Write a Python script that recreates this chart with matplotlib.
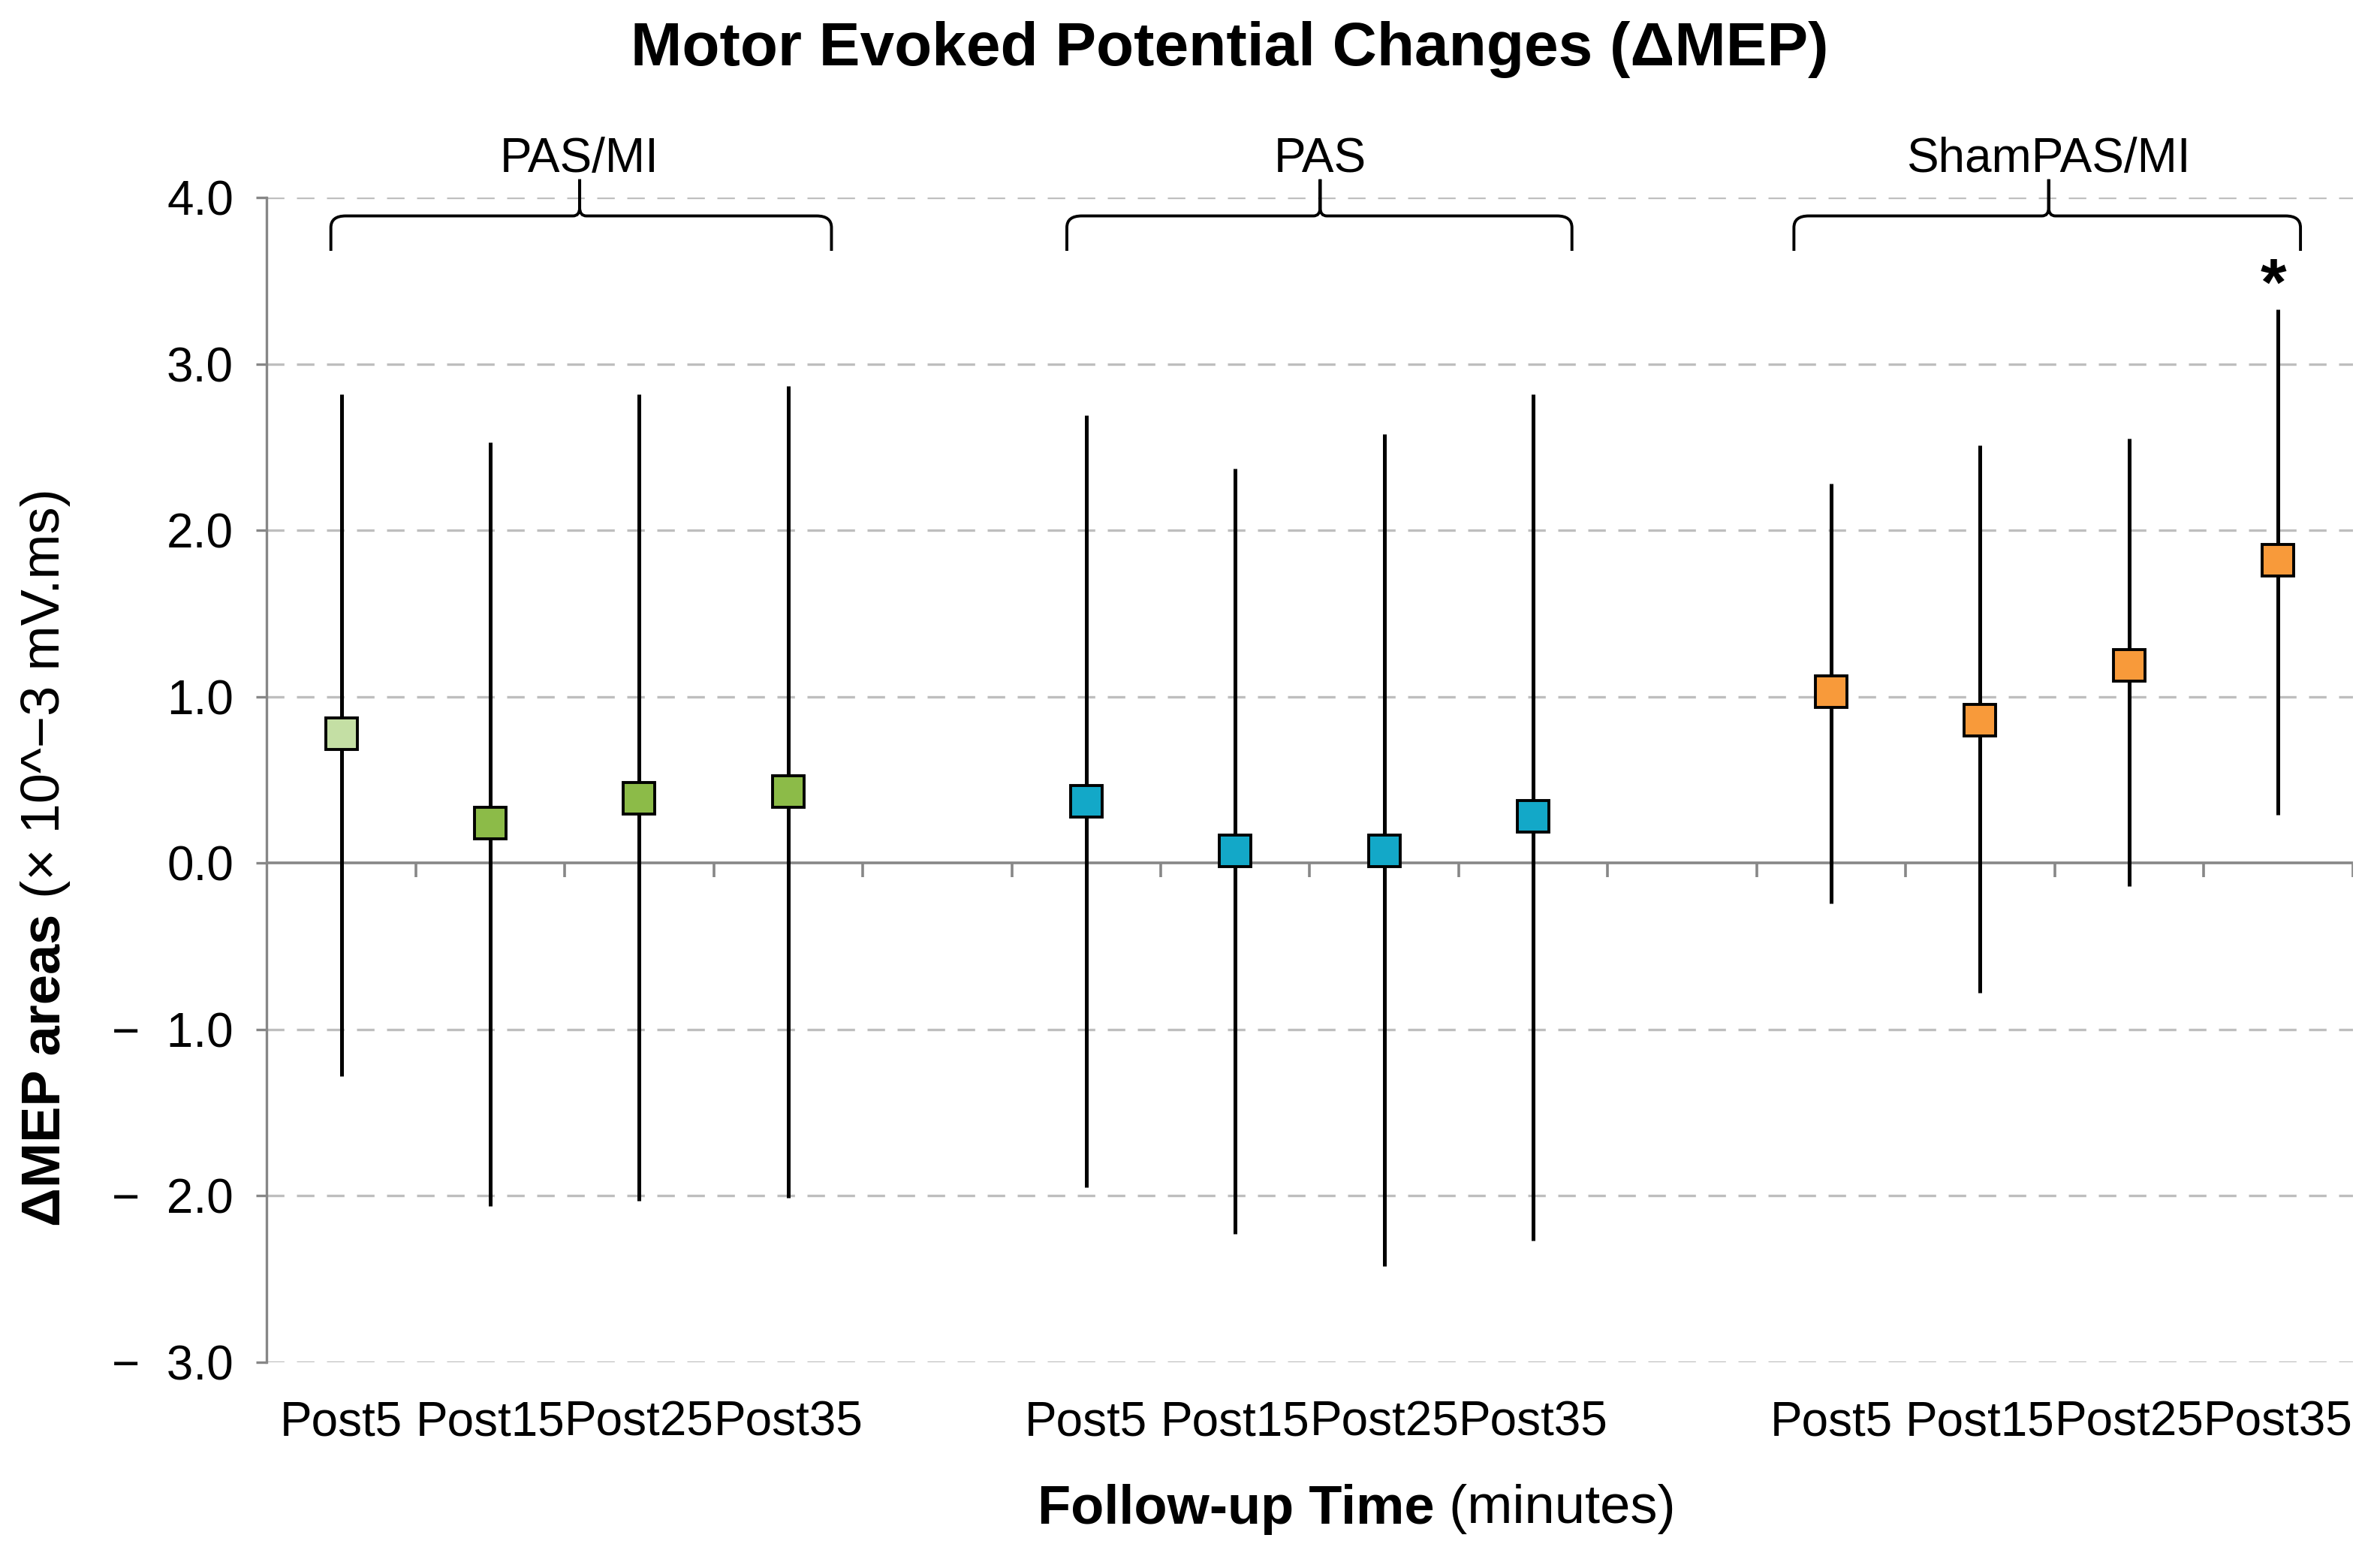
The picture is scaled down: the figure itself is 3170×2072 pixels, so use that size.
import matplotlib
matplotlib.use("Agg")
import matplotlib.pyplot as plt
from matplotlib.path import Path
from matplotlib.patches import PathPatch
import numpy as np

plt.rcParams['font.family'] = ['Liberation Sans', 'DejaVu Sans']

# ---------------- data ----------------
groups = ['PAS/MI', 'PAS', 'ShamPAS/MI']
timepoints = ['Post5', 'Post15', 'Post25', 'Post35']

pasmi_mean = [0.78, 0.24, 0.39, 0.43]
pasmi_upper = [2.82, 2.53, 2.82, 2.87]
pasmi_lower = [-1.28, -2.06, -2.03, -2.01]

pas_mean = [0.37, 0.075, 0.075, 0.28]
pas_upper = [2.69, 2.37, 2.58, 2.82]
pas_lower = [-1.95, -2.23, -2.42, -2.27]

sham_mean = [1.03, 0.86, 1.19, 1.82]
sham_upper = [2.28, 2.51, 2.55, 3.33]
sham_lower = [-0.24, -0.78, -0.14, 0.29]

yticks = [-3, -2, -1, 0, 1, 2, 3, 4]
significant = [(2, 3)]  # (group index, timepoint index)

# ---------------- style ----------------
group_colors = [
    ['#C4DFA4', '#8CBB48', '#8CBB48', '#8CBB48'],
    ['#13A8C8', '#13A8C8', '#13A8C8', '#13A8C8'],
    ['#F89A3A', '#F89A3A', '#F89A3A', '#F89A3A'],
]
slot_gap = 5
# brace layout (relative to group's first slot): left end, right end, centre
brace_rel = [(-0.07, 3.29, 1.60), (-0.13, 3.26, 1.57), (-0.25, 3.15, 1.46)]

fig = plt.figure(figsize=(31.70, 20.72), dpi=100)
ax = fig.add_axes([0.1121, 0.1245, 0.8764, 0.7485])

means = [pasmi_mean, pas_mean, sham_mean]
uppers = [pasmi_upper, pas_upper, sham_upper]
lowers = [pasmi_lower, pas_lower, sham_lower]

xt, xl = [], []
for g in range(len(groups)):
    x = np.arange(len(timepoints)) + g * slot_gap
    ax.vlines(x, lowers[g], uppers[g], color='black', lw=3.6, zorder=3)
    for i in range(len(timepoints)):
        ax.plot(x[i], means[g][i], marker='s', ms=30, mfc=group_colors[g][i],
                mec='black', mew=2.8, zorder=4, ls='none')
    xt.extend(x)
    xl.extend(timepoints)

n_slots = (len(groups) - 1) * slot_gap + len(timepoints)
ax.set_xlim(-0.5, n_slots - 0.5)
ax.set_ylim(min(yticks), max(yticks))

# grid lines
for v in yticks:
    if v != 0:
        ax.axhline(v, color='#BEBEBE', lw=2.4, ls=(0, (7, 5)), zorder=1)
ax.axhline(0, color='#878787', lw=2.6, zorder=2)
bounds = np.arange(0.5, n_slots, 1.0)
ax.vlines(bounds, -0.085, 0, color='#878787', lw=2.6, zorder=2)

for s in ['top', 'right', 'bottom']:
    ax.spines[s].set_visible(False)
ax.spines['left'].set_color('#878787')
ax.spines['left'].set_linewidth(2.4)

ax.set_yticks(yticks)
ax.set_yticklabels([f"{v:.1f}" if v >= 0 else f"\u2212  {abs(v):.1f}" for v in yticks])
ax.tick_params(axis='y', length=10, width=2.4, color='#878787', pad=22, labelsize=46)
ax.set_xticks(xt)
ax.set_xticklabels(xl)
ax.tick_params(axis='x', length=0, pad=36, labelsize=46)

# braces + group labels
y_bar, y_end, y_peak = 3.89, 3.68, 4.11
rx, ry, cw, cy = 0.10, 0.07, 0.045, 0.05
for g, (l, r, c) in enumerate(brace_rel):
    x0, x1, xc = g * slot_gap + l, g * slot_gap + r, g * slot_gap + c
    verts = [(x0, y_end), (x0, y_bar - ry), (x0, y_bar), (x0 + rx, y_bar),
             (xc - cw, y_bar), (xc, y_bar), (xc, y_bar + cy), (xc, y_peak),
             (x1, y_end), (x1, y_bar - ry), (x1, y_bar), (x1 - rx, y_bar),
             (xc + cw, y_bar), (xc, y_bar), (xc, y_bar + cy), (xc, y_peak)]
    codes = [Path.MOVETO, Path.LINETO, Path.CURVE3, Path.CURVE3,
             Path.LINETO, Path.CURVE3, Path.CURVE3, Path.LINETO] * 2
    ax.add_patch(PathPatch(Path(verts, codes), fill=False, lw=2.8,
                           ec='black', clip_on=False, zorder=5))
    ax.text(xc, 4.23, groups[g], ha='center', va='center', fontsize=46,
            clip_on=False)

for g, i in significant:
    ax.text(g * slot_gap + i - 0.03, uppers[g][i] + 0.13, '*', ha='center',
            va='center', fontsize=64, fontweight='bold')

# title
fig.text(0.5166, 0.968, 'Motor Evoked Potential Changes (\u0394MEP)',
         ha='center', va='center', fontsize=59, fontweight='bold')

# mixed-weight axis labels
fig.canvas.draw()
rend = fig.canvas.get_renderer()

xa = fig.text(0, 0.030, 'Follow-up Time', fontsize=52, fontweight='bold',
              ha='left', va='center')
xb = fig.text(0, 0.030, ' (minutes)', fontsize=52, ha='left', va='center')
wa = xa.get_window_extent(rend).width / fig.bbox.width
wb = xb.get_window_extent(rend).width / fig.bbox.width
x_start = 0.570 - (wa + wb) / 2
xa.set_x(x_start)
xb.set_x(x_start + wa)

ya = fig.text(0.019, 0, '\u0394MEP areas', fontsize=52, fontweight='bold',
              rotation=90, ha='center', va='bottom')
yb = fig.text(0.019, 0, ' (\u00d7 10^\u22123 mV.ms)', fontsize=52,
              rotation=90, ha='center', va='bottom')
ha_ = ya.get_window_extent(rend).height / fig.bbox.height
hb_ = yb.get_window_extent(rend).height / fig.bbox.height
y_start = 0.449 - (ha_ + hb_) / 2
ya.set_y(y_start)
yb.set_y(y_start + ha_)

fig.savefig('out.png', dpi=100)
